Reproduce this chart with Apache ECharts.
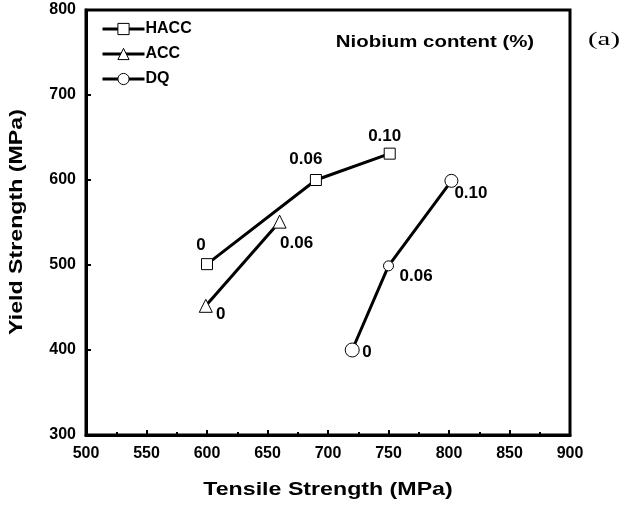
<!DOCTYPE html>
<html><head><meta charset="utf-8">
<script src="https://cdn.jsdelivr.net/npm/echarts@6/dist/echarts.min.js"></script>
<style>html,body{margin:0;padding:0;background:#fff}#c{width:626px;height:506px}</style>
</head><body><div id="c"></div>
<script>
const seriesNames = ['HACC', 'ACC', 'DQ'];
const haccX = [600, 690, 751];
const haccY = [501, 600, 631];
const haccLabels = ['0', '0.06', '0.10'];
const accX = [599, 660];
const accY = [452, 551];
const accLabels = ['0', '0.06'];
const dqX = [720, 750, 802];
const dqY = [400, 499, 599];
const dqLabels = ['0', '0.06', '0.10'];
const xTicks = [500, 550, 600, 650, 700, 750, 800, 850, 900];
const yTicks = [300, 400, 500, 600, 700, 800];
const xTitle = 'Tensile Strength (MPa)';
const yTitle = 'Yield Strength (MPa)';
const noteText = 'Niobium content (%)';
const panelText = '(a)';

const FONT = '"Liberation Sans", Arial, sans-serif';
const lblStyle = {fontFamily: FONT, fontWeight: 'bold', fontSize: 17, color: '#000'};

function mk(xs, ys, labels, offsets, aligns, sizes) {
  return xs.map((x, i) => ({
    value: [x, ys[i]],
    symbolSize: sizes ? sizes[i] : undefined,
    label: Object.assign({show: true, formatter: labels[i], position: 'inside',
      offset: offsets[i], align: aligns[i], verticalAlign: 'middle'}, lblStyle)
  }));
}

const chart = echarts.init(document.getElementById('c'), null, {renderer: 'canvas'});
const common = {type: 'line', lineStyle: {color: '#000', width: 3}, itemStyle: {color: '#fff', borderColor: '#000', borderWidth: 1}, symbolKeepAspect: true, z: 3, animation: false, emphasis: {disabled: true}};
chart.setOption({
  animation: false,
  grid: {left: 86, right: 56, top: 10, bottom: 71, show: true, borderColor: '#000', borderWidth: 3, backgroundColor: 'transparent'},
  legend: {
    orient: 'vertical', left: 96, top: 16, itemWidth: 42, itemHeight: 14, itemGap: 9,
    data: seriesNames,
    textStyle: {fontFamily: FONT, fontWeight: 'bold', fontSize: 16, color: '#000', padding: [0, 0, 0, -4]},
    itemStyle: {color: '#fff', borderColor: '#000', borderWidth: 1},
    lineStyle: {color: '#000', width: 3}
  },
  xAxis: {
    type: 'value', min: xTicks[0], max: xTicks[xTicks.length - 1], interval: 50,
    axisLine: {show: true, lineStyle: {color: '#000', width: 3}},
    axisTick: {show: true, inside: true, length: 5, lineStyle: {color: '#000', width: 2}},
    minorTick: {show: true, splitNumber: 2, length: 3, lineStyle: {color: '#000', width: 2}},
    axisLabel: {fontFamily: FONT, fontWeight: 'bold', fontSize: 16, color: '#000', margin: 11},
    splitLine: {show: false}
  },
  yAxis: {
    type: 'value', min: yTicks[0], max: yTicks[yTicks.length - 1], interval: 100,
    axisLine: {show: true, lineStyle: {color: '#000', width: 3}},
    axisTick: {show: true, inside: true, length: 5, lineStyle: {color: '#000', width: 2}},
    axisLabel: {fontFamily: FONT, fontWeight: 'bold', fontSize: 16, color: '#000', margin: 10},
    splitLine: {show: false}
  },
  graphic: [
    {type: 'text', x: 328, y: 490, scaleX: 1.22, style: {text: xTitle, font: 'bold 19px ' + FONT, fill: '#000', align: 'center', verticalAlign: 'middle'}},
    {type: 'text', x: 17, y: 222, rotation: Math.PI / 2, scaleX: 1.22, style: {text: yTitle, font: 'bold 19px ' + FONT, fill: '#000', align: 'center', verticalAlign: 'middle'}},
    {type: 'text', x: 435, y: 42, scaleX: 1.2, style: {text: noteText, font: 'bold 17px ' + FONT, fill: '#000', align: 'center', verticalAlign: 'middle'}},
    {type: 'text', x: 604, y: 40, scaleX: 1.6, style: {text: panelText, font: '18px "Liberation Serif", "Times New Roman", serif', fill: '#000', align: 'center', verticalAlign: 'middle'}}
  ],
  series: [
    Object.assign({}, common, {name: 'HACC', symbol: 'rect', symbolSize: 11,
      data: mk(haccX, haccY, haccLabels, [[-6, -19], [-10, -21], [-5, -17]], ['center', 'center', 'center'])}),
    Object.assign({}, common, {name: 'ACC', symbol: 'triangle', symbolSize: 13,
      data: mk(accX, accY, accLabels, [[15, 9], [17, 22]], ['center', 'center'])}),
    Object.assign({}, common, {name: 'DQ', symbol: 'circle', symbolSize: 12,
      data: mk(dqX, dqY, dqLabels, [[10, 2], [11, 10], [3, 12]], ['left', 'left', 'left'], [14, 10, 13])})
  ]
});
</script></body></html>
